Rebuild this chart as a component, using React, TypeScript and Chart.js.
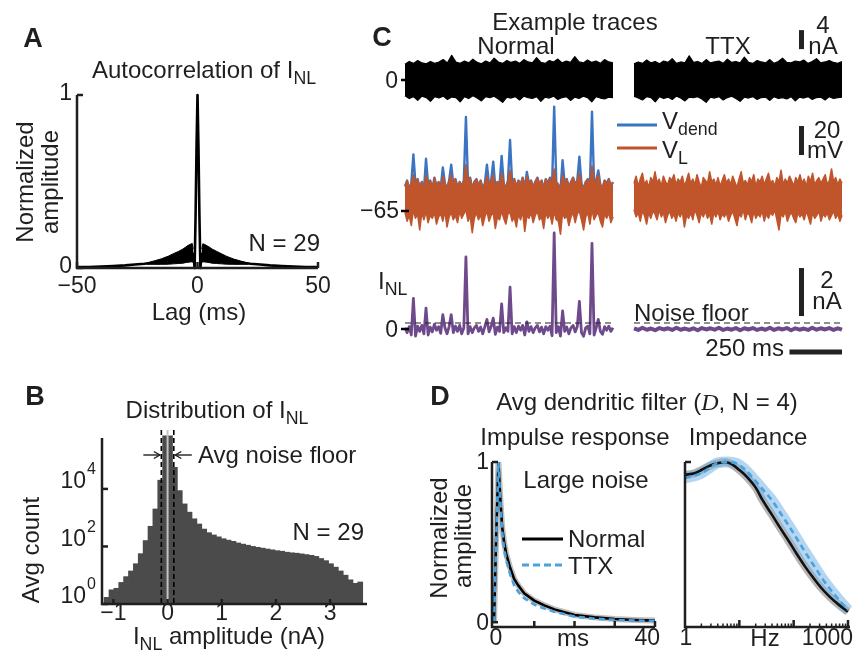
import React, { useEffect, useRef } from "react";
import { Chart, registerables } from "chart.js";
Chart.register(...registerables);

const FONT = '"Liberation Sans", Arial, Helvetica, sans-serif';
const INK = "#1f1f1f";
const BLUE = "#3b74c2";
const ORANGE = "#c0552c";
const PURPLE = "#6e4a8c";
const LBLUE = "#4aa3df";
const LABEL_PX = 24;
const TICK_PX = 23;

// ---------- Panel A: autocorrelation ----------
const acLags = [-50,-45,-40,-35,-30,-26,-22,-18,-15,-12,-10,-8,-6,-5,-4,-3,-2,-1.5,-1.2,-0.8,-0.4,0,0.4,0.8,1.2,1.5,2,3,4,5,6,8,10,12,15,18,22,26,30,35,40,45,50];
const acMean = [0.005,0.006,0.008,0.011,0.015,0.02,0.025,0.032,0.039,0.047,0.053,0.06,0.068,0.072,0.076,0.08,0.082,0.05,0.0,0.3,0.7,1.0,0.7,0.3,0.0,0.05,0.082,0.08,0.076,0.072,0.068,0.06,0.053,0.047,0.039,0.032,0.025,0.02,0.015,0.011,0.008,0.006,0.005];
const bandLagsL = [-21,-18,-15,-12,-10,-8,-6,-5,-4,-3,-2.2,-1.8];
const bandUpL = [0.029,0.041,0.053,0.069,0.083,0.095,0.11,0.12,0.13,0.137,0.142,0.11];
const bandLoL = [0.022,0.021,0.021,0.022,0.024,0.026,0.028,0.031,0.033,0.035,0.036,0.03];
const bandLagsR = [1.8,2.2,3,4,5,6,8,10,12,15,18,21];
const bandUpR = [0.11,0.14,0.136,0.128,0.12,0.11,0.096,0.082,0.068,0.052,0.04,0.028];
const bandLoR = [0.03,0.036,0.035,0.033,0.031,0.028,0.026,0.024,0.022,0.021,0.021,0.022];
const acXTicks = [-50, 0, 50];
const acYTicks = [0, 1];

// ---------- Panel B: histogram ----------
const histCenters = [-1.125,-1.035,-0.945,-0.855,-0.765,-0.675,-0.585,-0.495,-0.405,-0.315,-0.225,-0.135,-0.045,
  0.045,0.135,0.225,0.315,0.405,0.495,0.585,0.675,0.765,0.855,0.945,1.035,1.125,1.215,1.305,1.395,1.485,1.575,1.665,1.755,1.845,1.935,2.025,2.115,2.205,2.295,2.385,2.475,2.565,2.655,2.745,2.835,2.925,3.015,3.105,3.195,3.285,3.375,3.465,3.555];
const histCounts = [1.7,3.1,3.5,5.6,8.9,14,25,56,160,500,2000,20000,700000,
  700000,56000,8700,3000,1550,910,600,400,300,250,215,185,165,150,132,120,110,100,93,87,81,76,71,68,63,60,58,55,52,49,45,38,32,25,19,14,10,6.9,5.2,5.8];
const histXTicks = [-1, 0, 1, 2, 3];
const histYTicks = [1, 100, 10000];
const histYExp = ["0", "2", "4"];
const noiseFloorAvg = 0.115;

// ---------- Panel C: example traces ----------
const vLNormalUp = [-48,-44,-50,-46,-40,-47,-43,-49,-45,-51,-40,-47,-44,-50,-42,-48,-45,-49,-41,-46,
  -50,-44,-40,-47,-43,-49,-45,-48,-44,-33,-46,-42,-50,-45,-43,-48,-44,-50,-46,-41,
  -47,-44,-40,-49,-45,-47,-39,-46,-50,-44,-37,-46,-43,-49,-44,-47,-42,-50,-41,-46,
  -44,-49,-45,-42,-47,-44,-50,-43,-46,-42,-48,-36,-45,-47,-51,-40,-46,-43,-49,-45,
  -42,-47,-44,-39,-46,-50,-45,-43,-48,-34,-46,-44,-40,-47,-49,-44,-46,-43,-48,-45];
const vLNormalLo = [-66,-72,-68,-75,-64,-70,-67,-78,-66,-71,-65,-73,-68,-70,-66,-74,-69,-67,-72,-65,
  -76,-69,-66,-71,-68,-73,-65,-70,-67,-64,-72,-68,-80,-70,-66,-71,-67,-75,-69,-65,
  -72,-68,-66,-77,-69,-71,-65,-70,-74,-67,-66,-72,-69,-76,-67,-71,-65,-79,-68,-70,
  -66,-73,-68,-65,-71,-69,-77,-66,-70,-67,-74,-65,-71,-72,-81,-66,-70,-68,-75,-69,
  -66,-73,-67,-65,-71,-78,-69,-66,-74,-64,-71,-68,-66,-72,-76,-67,-70,-66,-73,-69];
const vDendNormalUp = [-48,-44,-50,-46,-26,-47,-43,-49,-45,-51,-29,-47,-44,-50,-42,-48,-45,-49,-35,-46,
  -50,-44,-33,-47,-43,-49,-45,-48,-44,-0.2,-46,-42,-50,-45,-43,-48,-44,-50,-46,-33,
  -47,-44,-31,-49,-45,-47,-27,-46,-50,-44,-16,-46,-43,-49,-44,-47,-42,-50,-38,-46,
  -44,-49,-45,-42,-47,-44,-50,-43,-46,-42,-48,7,-45,-47,-51,-30,-46,-43,-49,-45,
  -42,-47,-44,-27.5,-46,-50,-45,-43,-48,3.5,-46,-44,-37,-47,-49,-44,-46,-43,-48,-45];
const iNLNormal = [0.05,-0.15,0.1,-0.25,1.28,-0.3,0.12,-0.1,0.15,-0.2,0.87,-0.25,0.08,-0.12,0.2,-0.05,0.1,-0.18,0.6,0.05,
  -0.2,0.1,0.6,-0.15,0.12,-0.1,0.15,-0.2,0.05,3.0,-0.2,0.1,-0.15,0.05,0.15,-0.1,0.08,-0.2,0.1,0.4,
  -0.12,0.1,0.45,-0.22,0.08,-0.1,1.05,-0.15,0.05,-0.1,1.74,-0.2,0.1,-0.15,0.12,-0.05,0.15,-0.25,0.3,-0.1,
  0.1,-0.15,0.05,0.15,-0.12,0.08,-0.2,0.1,-0.05,0.12,-0.28,4.0,-0.15,0.1,-0.3,0.75,-0.1,0.08,-0.2,0.05,
  0.15,-0.12,0.1,1.15,-0.15,-0.3,0.05,0.12,-0.2,3.57,-0.25,0.05,0.4,-0.1,-0.22,0.1,-0.05,0.12,-0.1,0.05];
const vLTTXUp = [-46,-41,-48,-43,-39,-47,-44,-49,-42,-45,-38,-46,-43,-48,-41,-45,-47,-42,-44,-40,
  -47,-43,-45,-41,-48,-44,-39,-46,-43,-47,-40,-45,-49,-42,-44,-46,-38,-45,-43,-47,
  -42,-48,-44,-40,-46,-43,-47,-41,-45,-49,-43,-38,-46,-44,-47,-42,-45,-40,-48,-43,
  -45,-41,-47,-43,-39,-46,-44,-48,-42,-45,-37,-47,-43,-46,-41,-44,-48,-42,-45,-40,
  -46,-43,-48,-41,-45,-39,-47,-44,-42,-46,-43,-40,-47,-44,-36,-45,-42,-47,-43,-46];
const vLTTXLo = [-64,-69,-66,-72,-65,-68,-74,-66,-70,-65,-67,-71,-64,-69,-66,-73,-68,-65,-70,-67,
  -72,-66,-69,-65,-76,-68,-70,-66,-71,-64,-68,-73,-66,-69,-65,-70,-67,-74,-66,-69,
  -65,-71,-67,-69,-66,-72,-68,-65,-70,-75,-67,-69,-64,-71,-66,-68,-73,-65,-70,-67,
  -69,-65,-72,-67,-70,-66,-68,-64,-71,-78,-67,-69,-65,-72,-68,-66,-70,-73,-66,-69,
  -67,-71,-65,-69,-74,-66,-70,-68,-65,-72,-67,-69,-66,-71,-68,-65,-70,-67,-72,-68];
const iNLTTX = [0.03,-0.04,0.05,-0.03,0.02,-0.05,0.04,-0.02,0.03,-0.04,0.05,-0.03,0.02,-0.04,0.03,-0.05,0.04,-0.02,0.03,-0.03,
  0.05,-0.04,0.02,-0.03,0.04,-0.05,0.03,-0.02,0.04,-0.04,0.02,-0.03,0.05,-0.04,0.03,-0.02,0.04,-0.05,0.03,-0.03,
  0.02,-0.04,0.05,-0.03,0.03,-0.02,0.04,-0.04,0.03,-0.03];
const iTotNormalUp = [3.3,3.9,3.5,4.1,3.6,3.4,3.9,3.5,3.8,4.3,3.6,5.2,3.8,3.5,4.0,3.6,4.4,3.7,3.4,4.0,3.6,4.6,3.8,3.5,4.1,3.7,4.0,3.5,4.3,3.8,3.6,4.7,3.7,3.5,4.1,3.8,4.4,3.6,4.0,3.7,4.9,3.8,3.6,4.2,3.7,4.0,3.5,4.3,3.8,3.6];
const iTotNormalLo = [-3.3,-3.9,-3.5,-4.3,-3.4,-3.7,-4.5,-3.5,-3.8,-3.4,-4.1,-3.6,-3.7,-4.6,-3.5,-3.9,-3.3,-3.8,-4.4,-3.5,-3.7,-3.4,-4.0,-4.7,-3.6,-3.8,-3.5,-4.2,-3.4,-3.7,-3.9,-3.5,-4.5,-3.6,-3.8,-3.4,-4.1,-3.7,-3.5,-4.3,-3.6,-3.9,-3.4,-3.7,-4.6,-3.5,-3.8,-4.0,-3.6,-3.7];
const iTotTTXUp = [3.4,3.8,3.5,4.2,3.6,3.9,3.4,4.0,3.7,4.5,3.5,3.8,3.6,5.1,3.7,3.9,3.5,4.3,3.6,3.8,4.0,3.5,4.4,3.7,3.9,3.6,4.8,3.7,3.5,4.1,3.8,3.6,4.3,3.5,3.9,4.6,3.7,3.6,4.0,3.8,4.2,3.5,3.9,4.5,3.6,3.8,4.1,3.7,3.5,3.9];
const iTotTTXLo = [-3.4,-3.8,-4.2,-3.5,-3.7,-4.6,-3.5,-3.9,-3.6,-4.1,-3.4,-3.8,-4.4,-3.6,-3.7,-3.5,-4.0,-4.7,-3.6,-3.8,-3.5,-4.2,-3.7,-3.4,-3.9,-4.5,-3.6,-3.8,-3.5,-4.1,-3.7,-3.6,-4.3,-3.5,-3.9,-3.7,-4.0,-3.5,-4.4,-3.6,-3.8,-3.5,-4.1,-3.7,-3.6,-4.2,-3.5,-3.9,-3.7,-3.6];
const traceDurMs = 990;
const noiseFloorTrace = 0.25;
const scaleBarItot = 4, scaleBarV = 20, scaleBarINL = 2, scaleBarMs = 250;

// ---------- Panel D: dendritic filter ----------
const impT = [0,0.5,1.1,1.5,2,2.5,3,4,5,6,7.5,10,12.5,15,20,25,30,35,40];
const impNormal = [0,0.5,1.0,0.8,0.6,0.5,0.43,0.34,0.27,0.23,0.18,0.135,0.105,0.08,0.045,0.03,0.02,0.014,0.01];
const impTTX = [0,0.48,1.0,0.78,0.57,0.46,0.39,0.3,0.23,0.19,0.15,0.11,0.085,0.065,0.035,0.022,0.015,0.01,0.008];
const impXTicks = [0, 10, 20, 30, 40];
const impYTicks = [0, 1];
const zF = [1,1.5,2,3,4.4,5.5,7.7,10,13.5,20,27,40,55,80,112,160,226,320,457,700,1000];
const zNormal = [0.92,0.93,0.95,0.98,0.995,1.0,0.98,0.95,0.91,0.84,0.76,0.67,0.595,0.51,0.43,0.35,0.28,0.215,0.16,0.105,0.065];
const zFT = [1,2,3,4,6,9,13,20,30,40,60,82,120,168,250,340,500,700,1000];
const zTTX = [0.9,0.93,0.97,0.995,1.0,0.99,0.95,0.88,0.81,0.76,0.67,0.6,0.51,0.43,0.34,0.27,0.195,0.135,0.075];
const zMajor = [1, 10, 100, 1000];

// ---------- helpers ----------
const xy = (xs: number[], ys: number[]) => xs.map((x, i) => ({ x, y: ys[i] }));
const fmt = (v: number) => (v < 0 ? "\u2212" + Math.abs(v) : String(v));
const PAD = 70;
type Area = { l: number; t: number; r: number; b: number };

function seg(ctx: any, x1: number, y1: number, x2: number, y2: number, w = 2.5, color = INK, dash: number[] = []) {
  ctx.save();
  ctx.strokeStyle = color; ctx.lineWidth = w; ctx.setLineDash(dash); ctx.lineCap = "butt";
  ctx.beginPath(); ctx.moveTo(x1, y1); ctx.lineTo(x2, y2); ctx.stroke();
  ctx.restore();
}
function label(ctx: any, s: string, x: number, y: number, align = "center", size = TICK_PX) {
  ctx.save();
  ctx.fillStyle = INK; ctx.font = `${size}px ${FONT}`; ctx.textAlign = align; ctx.textBaseline = "middle";
  ctx.fillText(s, x, y);
  ctx.restore();
}
function axesL(ctx: any, ca: any, extendRight = 0) {
  ctx.save();
  ctx.strokeStyle = INK; ctx.lineWidth = 2.5; ctx.lineJoin = "miter";
  ctx.beginPath(); ctx.moveTo(ca.left, ca.top); ctx.lineTo(ca.left, ca.bottom); ctx.lineTo(ca.right + extendRight, ca.bottom); ctx.stroke();
  ctx.restore();
}
function arrow(ctx: any, x1: number, x2: number, y: number) {
  seg(ctx, x1, y, x2, y, 1.4);
  const d = x2 > x1 ? -1 : 1;
  ctx.save(); ctx.strokeStyle = INK; ctx.lineWidth = 1.4;
  ctx.beginPath(); ctx.moveTo(x2 + d * 6, y - 3.5); ctx.lineTo(x2, y); ctx.lineTo(x2 + d * 6, y + 3.5); ctx.stroke();
  ctx.restore();
}

function ChartBox({ area, make }: { area: Area; make: (ox: number, oy: number) => any }) {
  const ref = useRef<HTMLCanvasElement | null>(null);
  const ox = area.l - PAD, oy = area.t - PAD;
  const w = area.r - area.l + 2 * PAD, h = area.b - area.t + 2 * PAD;
  useEffect(() => {
    const cfg = make(ox, oy);
    cfg.options = {
      responsive: false, maintainAspectRatio: false, animation: false, devicePixelRatio: 1,
      layout: { padding: PAD }, events: [],
      ...cfg.options,
      plugins: { legend: { display: false }, tooltip: { enabled: false }, title: { display: false } },
    };
    const chart = new Chart(ref.current as any, cfg);
    return () => chart.destroy();
  }, []);
  return <canvas ref={ref} width={w} height={h} style={{ position: "absolute", left: ox, top: oy, width: w, height: h }} />;
}

function T({ x, y, a = "c", s = LABEL_PX, b = false, rot = 0, children, style = {} }: any) {
  const tx = a === "l" ? "0" : a === "r" ? "-100%" : "-50%";
  return (
    <div style={{ position: "absolute", left: x, top: y, transform: `translate(${tx}, -50%) rotate(${rot}deg)`,
      fontSize: s, fontWeight: b ? "bold" : "normal", fontFamily: FONT, whiteSpace: "nowrap", lineHeight: 1, color: INK, ...style }}>
      {children}
    </div>
  );
}
const Sub = ({ children }: any) => (
  <span style={{ fontSize: "0.74em", position: "relative", top: "0.32em" }}>{children}</span>
);

// ---------- chart configs ----------
const areaA: Area = { l: 77, t: 95, r: 318, b: 268 };
const makeA = (ox: number, oy: number) => ({
  type: "line",
  data: {
    datasets: [
      { data: xy(acLags, acMean), borderColor: "#000", borderWidth: 2.6, pointRadius: 0, borderJoinStyle: "round", order: 0, clip: 8 },
      { data: xy(bandLagsL, bandUpL), borderColor: "#000", borderWidth: 1, pointRadius: 0, fill: "+1", backgroundColor: "#000", order: 1 },
      { data: xy(bandLagsL, bandLoL), borderColor: "#000", borderWidth: 1, pointRadius: 0, order: 2 },
      { data: xy(bandLagsR, bandUpR), borderColor: "#000", borderWidth: 1, pointRadius: 0, fill: "+1", backgroundColor: "#000", order: 1 },
      { data: xy(bandLagsR, bandLoR), borderColor: "#000", borderWidth: 1, pointRadius: 0, order: 2 },
    ],
  },
  options: {
    scales: {
      x: { type: "linear", display: false, min: -50, max: 50 },
      y: { type: "linear", display: false, min: 0, max: 1 },
    },
  },
  plugins: [{
    id: "axA",
    afterDraw(chart: any) {
      const { ctx, chartArea: ca, scales: { x, y } } = chart;
      axesL(ctx, ca);
      acYTicks.forEach((v) => { const py = y.getPixelForValue(v); seg(ctx, ca.left, py, ca.left + 6, py); label(ctx, fmt(v), ca.left - 5, py - 1, "right"); });
      acXTicks.forEach((v) => { const px = x.getPixelForValue(v); seg(ctx, px, ca.bottom, px, ca.bottom - 6); label(ctx, fmt(v), px, ca.bottom + 19); });
    },
  }],
});

const areaB: Area = { l: 102, t: 438, r: 367, b: 604 };
const makeB = (ox: number, oy: number) => ({
  type: "bar",
  data: {
    datasets: [{ data: xy(histCenters, histCounts), backgroundColor: "#4b4b4b", borderWidth: 0, barPercentage: 1, categoryPercentage: 1, inflateAmount: 0.4, clip: false }],
  },
  options: {
    scales: {
      x: { type: "linear", display: false, min: -1.21, max: 3.68, offset: false },
      y: { type: "logarithmic", display: false, min: 1, max: Math.pow(10, 5.77) },
    },
  },
  plugins: [{
    id: "axB",
    afterDatasetsDraw(chart: any) {
      const { ctx, chartArea: ca, scales: { x } } = chart;
      const top = ca.top - 8;
      seg(ctx, x.getPixelForValue(0), top, x.getPixelForValue(0), ca.bottom, 2, "#c4c4c4");
      [-noiseFloorAvg, noiseFloorAvg].forEach((v) => {
        const px = x.getPixelForValue(v);
        seg(ctx, px, top, px, ca.bottom, 1.6, "#000", [5, 3]);
      });
      const ay = 455 - oy;
      arrow(ctx, x.getPixelForValue(-noiseFloorAvg) - 18, x.getPixelForValue(-noiseFloorAvg) - 1.5, ay);
      arrow(ctx, x.getPixelForValue(noiseFloorAvg) + 18, x.getPixelForValue(noiseFloorAvg) + 1.5, ay);
    },
    afterDraw(chart: any) {
      const { ctx, chartArea: ca, scales: { x, y } } = chart;
      axesL(ctx, ca);
      histYTicks.forEach((v, i) => {
        const py = y.getPixelForValue(v);
        seg(ctx, ca.left, py, ca.left + 6, py);
        label(ctx, "10", ca.left - 16, py - 7, "right");
        label(ctx, histYExp[i], ca.left - 15, py - 19, "left", 16);
      });
      histXTicks.forEach((v) => { const px = x.getPixelForValue(v); seg(ctx, px, ca.bottom, px, ca.bottom - 5); label(ctx, fmt(v), px, ca.bottom + 10); });
    },
  }],
});

const I_ZERO_PX = 80, I_PX = 4.75;
const V_REF = -65, V_REF_PX = 211, V_PX = 1.45;
const N_ZERO_PX = 329, N_PX = 24;
const TR_TOP = 20, TR_BOT = 360;
const rangeFor = (refPx: number, refVal: number, pxPer: number) => ({ min: refVal - (TR_BOT - refPx) / pxPer, max: refVal + (refPx - TR_TOP) / pxPer });
const traceT = vLNormalUp.map((_, i) => (i * traceDurMs) / (vLNormalUp.length - 1));
const envT = iTotNormalUp.map((_, i) => (i * traceDurMs) / (iTotNormalUp.length - 1));

const traceScales = {
  x: { type: "linear", display: false, min: 0, max: traceDurMs },
  yI: { type: "linear", display: false, ...rangeFor(I_ZERO_PX, 0, I_PX) },
  yV: { type: "linear", display: false, ...rangeFor(V_REF_PX, V_REF, V_PX) },
  yN: { type: "linear", display: false, ...rangeFor(N_ZERO_PX, 0, N_PX) },
};
const lineDs = (data: any, color: string, axis: string, w: number, order: number, extra: any = {}) => ({
  data, borderColor: color, borderWidth: w, pointRadius: 0, yAxisID: axis, order, borderJoinStyle: "round", clip: false, ...extra,
});

const areaCN: Area = { l: 405, t: TR_TOP, r: 613, b: TR_BOT };
const makeCN = (ox: number, oy: number) => ({
  type: "line",
  data: {
    datasets: [
      lineDs(xy(envT, iTotNormalUp), "#000", "yI", 1.2, 7, { fill: "+1", backgroundColor: "#000" }),
      lineDs(xy(envT, iTotNormalLo), "#000", "yI", 1.2, 8),
      lineDs(xy(traceT, vDendNormalUp), BLUE, "yV", 2.4, 6),
      lineDs(xy(traceT, vLNormalUp), ORANGE, "yV", 1.6, 4, { fill: "+1", backgroundColor: ORANGE }),
      lineDs(xy(traceT, vLNormalLo), ORANGE, "yV", 1.6, 5),
      lineDs(xy(traceT, iNLNormal), PURPLE, "yN", 2.8, 2),
      lineDs(xy([0, traceDurMs], [noiseFloorTrace, noiseFloorTrace]), "#222", "yN", 1.2, 1, { borderDash: [6, 4] }),
    ],
  },
  options: { scales: traceScales },
  plugins: [{
    id: "axCN",
    afterDraw(chart: any) {
      const { ctx, chartArea: ca, scales: { yI, yV, yN } } = chart;
      [yI.getPixelForValue(0), yV.getPixelForValue(V_REF), yN.getPixelForValue(0)].forEach((py) => seg(ctx, ca.left - 4, py, ca.left + 4, py, 2.5, "#000"));
      seg(ctx, 617 - ox, 125 - oy, 657 - ox, 125 - oy, 3, BLUE);
      seg(ctx, 617 - ox, 148 - oy, 657 - ox, 148 - oy, 3, ORANGE);
    },
  }],
});

const areaCT: Area = { l: 634, t: TR_TOP, r: 842, b: TR_BOT };
const makeCT = (ox: number, oy: number) => ({
  type: "line",
  data: {
    datasets: [
      lineDs(xy(envT, iTotTTXUp), "#000", "yI", 1.2, 7, { fill: "+1", backgroundColor: "#000" }),
      lineDs(xy(envT, iTotTTXLo), "#000", "yI", 1.2, 8),
      lineDs(xy(traceT, vLTTXUp), ORANGE, "yV", 1.6, 4, { fill: "+1", backgroundColor: ORANGE }),
      lineDs(xy(traceT, vLTTXLo), ORANGE, "yV", 1.6, 5),
      lineDs(xy(envT, iNLTTX), PURPLE, "yN", 4, 2),
      lineDs(xy([0, traceDurMs], [noiseFloorTrace, noiseFloorTrace]), "#222", "yN", 1.2, 1, { borderDash: [6, 4] }),
    ],
  },
  options: { scales: traceScales },
  plugins: [{
    id: "axCT",
    afterDraw(chart: any) {
      const { ctx, scales: { x, yI, yV, yN } } = chart;
      const bx = 801.5 - ox;
      seg(ctx, bx, yI.getPixelForValue(6.5), bx, yI.getPixelForValue(6.5 + scaleBarItot), 5, "#222");
      seg(ctx, bx, yV.getPixelForValue(-26.4), bx, yV.getPixelForValue(-26.4 + scaleBarV), 5, "#222");
      seg(ctx, bx, yN.getPixelForValue(0.54), bx, yN.getPixelForValue(0.54 + scaleBarINL), 5, "#222");
      seg(ctx, x.getPixelForValue(traceDurMs - scaleBarMs), 352 - oy, x.getPixelForValue(traceDurMs), 352 - oy, 5, "#222");
    },
  }],
});

const areaD1: Area = { l: 492, t: 462, r: 655, b: 627 };
const makeD1 = (ox: number, oy: number) => ({
  type: "line",
  data: {
    datasets: [
      { data: xy(impT, impTTX), borderColor: LBLUE, borderWidth: 2.6, borderDash: [6, 4], pointRadius: 0, order: 0, clip: false },
      { data: xy(impT, impNormal), borderColor: "#000", borderWidth: 2.6, pointRadius: 0, order: 1, clip: false },
      { data: xy(impT, impNormal), borderColor: "rgba(0,0,0,0.25)", borderWidth: 6, pointRadius: 0, order: 2, clip: false },
    ],
  },
  options: {
    scales: {
      x: { type: "linear", display: false, min: -0.5, max: 40 },
      y: { type: "linear", display: false, min: -0.03, max: 1 },
    },
  },
  plugins: [{
    id: "axD1",
    afterDraw(chart: any) {
      const { ctx, chartArea: ca, scales: { x, y } } = chart;
      axesL(ctx, ca);
      impYTicks.forEach((v) => { const py = v === 0 ? y.getPixelForValue(0) : ca.top; seg(ctx, ca.left, py, ca.left + 6, py); label(ctx, fmt(v), ca.left - 3, py + 1, "right"); });
      impXTicks.forEach((v) => { const px = x.getPixelForValue(v); if (v > 0) seg(ctx, px, ca.bottom, px, ca.bottom - 6); });
      label(ctx, "0", x.getPixelForValue(0) + 2, ca.bottom + 12);
      label(ctx, "40", x.getPixelForValue(40) + 5, ca.bottom + 12, "right");
      seg(ctx, 522 - ox, 539 - oy, 563 - ox, 539 - oy, 2.8, "#000");
      seg(ctx, 522 - ox, 565 - oy, 563 - ox, 565 - oy, 2.8, LBLUE, [7, 4]);
    },
  }],
});

const smooth = { cubicInterpolationMode: "monotone" };
const areaD2: Area = { l: 685, t: 462, r: 848, b: 627 };
const makeD2 = (ox: number, oy: number) => ({
  type: "line",
  data: {
    datasets: [
      { data: xy(zFT, zTTX), borderColor: LBLUE, borderWidth: 2.6, borderDash: [6, 4], pointRadius: 0, order: 0, clip: false, ...smooth },
      { data: xy(zF, zNormal), borderColor: "#111", borderWidth: 2.6, pointRadius: 0, order: 1, clip: false, ...smooth },
      { data: xy(zFT, zTTX), borderColor: "rgba(120,180,230,0.55)", borderWidth: 11, pointRadius: 0, order: 2, clip: false, ...smooth },
      { data: xy(zF, zNormal), borderColor: "rgba(90,90,90,0.45)", borderWidth: 8, pointRadius: 0, order: 3, clip: false, ...smooth },
    ],
  },
  options: {
    scales: {
      x: { type: "logarithmic", display: false, min: 1, max: 1000 },
      y: { type: "linear", display: false, min: -0.03, max: 1 },
    },
  },
  plugins: [{
    id: "axD2",
    afterDraw(chart: any) {
      const { ctx, chartArea: ca, scales: { x } } = chart;
      axesL(ctx, ca, 2);
      seg(ctx, ca.left, ca.top, ca.left + 6, ca.top);
      zMajor.forEach((v) => { const px = x.getPixelForValue(v); if (v > 1) seg(ctx, px, ca.bottom, px, ca.bottom - 7); });
      [1, 10, 100].forEach((d) => [2, 3, 4, 5, 6, 7, 8, 9].forEach((m) => { const px = x.getPixelForValue(d * m); seg(ctx, px, ca.bottom, px, ca.bottom - 3.5, 1.5); }));
      label(ctx, "1", x.getPixelForValue(1) + 1, ca.bottom + 12);
      label(ctx, "1000", x.getPixelForValue(1000) + 5, ca.bottom + 12, "right");
    },
  }],
});

export default function App() {
  return (
    <div style={{ position: "fixed", left: 0, top: 0, width: 867, height: 657, background: "#fff", overflow: "hidden", fontFamily: FONT, color: INK }}>
      <ChartBox area={areaA} make={makeA} />
      <ChartBox area={areaB} make={makeB} />
      <ChartBox area={areaCN} make={makeCN} />
      <ChartBox area={areaCT} make={makeCT} />
      <ChartBox area={areaD1} make={makeD1} />
      <ChartBox area={areaD2} make={makeD2} />

      {/* Panel A */}
      <T x={33} y={38} s={27} b>A</T>
      <T x={204} y={70}>Autocorrelation of I<Sub>NL</Sub></T>
      <T x={25} y={182} rot={-90}>Normalized</T>
      <T x={50} y={182} rot={-90}>amplitude</T>
      <T x={320} y={243} a="r">N = 29</T>
      <T x={199} y={312}>Lag (ms)</T>

      {/* Panel B */}
      <T x={35} y={396} s={27} b>B</T>
      <T x={217} y={410}>Distribution of I<Sub>NL</Sub></T>
      <T x={198} y={455} a="l">Avg noise floor</T>
      <T x={31} y={550} rot={-90}>Avg count</T>
      <T x={364} y={532} a="r">N = 29</T>
      <T x={229} y={636}>I<Sub>NL</Sub> amplitude (nA)</T>

      {/* Panel C */}
      <T x={382} y={37} s={27} b>C</T>
      <T x={575} y={22}>Example traces</T>
      <T x={516} y={46}>Normal</T>
      <T x={728} y={46}>TTX</T>
      <T x={398} y={80} a="r" s={TICK_PX}>0</T>
      <T x={399} y={210} a="r" s={TICK_PX}>{"\u221265"}</T>
      <T x={398} y={329} a="r" s={TICK_PX}>0</T>
      <T x={378} y={281} a="l">I<Sub>NL</Sub></T>
      <T x={662} y={121} a="l">V<Sub>dend</Sub></T>
      <T x={662} y={150} a="l">V<Sub>L</Sub></T>
      <T x={823} y={25}>4</T>
      <T x={823} y={46}>nA</T>
      <T x={827} y={130}>20</T>
      <T x={825} y={150}>mV</T>
      <T x={827} y={280}>2</T>
      <T x={827} y={301}>nA</T>
      <T x={634} y={313} a="l">Noise floor</T>
      <T x={784} y={348} a="r">250 ms</T>

      {/* Panel D */}
      <T x={440} y={396} s={27} b>D</T>
      <T x={647} y={402}>Avg dendritic filter (<span style={{ fontFamily: '"Liberation Serif", "DejaVu Serif", serif', fontStyle: "italic" }}>D</span>, N = 4)</T>
      <T x={575} y={437}>Impulse response</T>
      <T x={748} y={437}>Impedance</T>
      <T x={439} y={538} rot={-90}>Normalized</T>
      <T x={463} y={536} rot={-90}>amplitude</T>
      <T x={586} y={480}>Large noise</T>
      <T x={568} y={539} a="l">Normal</T>
      <T x={568} y={566} a="l">TTX</T>
      <T x={573} y={638}>ms</T>
      <T x={765} y={638}>Hz</T>
    </div>
  );
}
